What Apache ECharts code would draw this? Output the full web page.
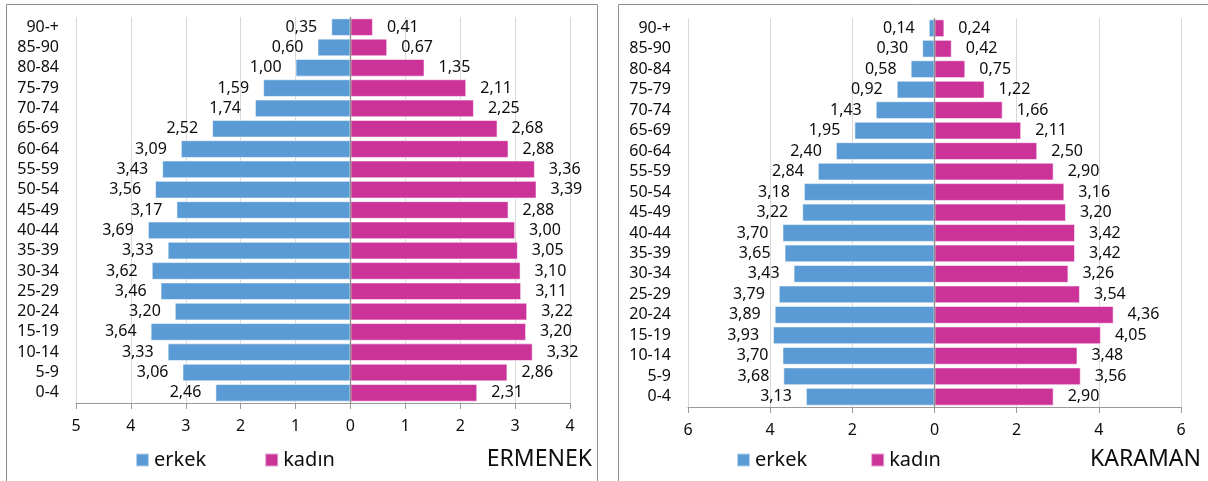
<!DOCTYPE html>
<html>
<head>
<meta charset="utf-8">
<script src="https://cdn.jsdelivr.net/npm/echarts@6/dist/echarts.min.js"></script>
<style>
html,body{margin:0;padding:0;background:#fff;}
#c{width:1208px;height:481px;}
</style>
</head>
<body>
<div id="c"></div>
<script>
// Age groups, bottom to top
const categories = ['0-4','5-9','10-14','15-19','20-24','25-29','30-34','35-39','40-44','45-49','50-54','55-59','60-64','65-69','70-74','75-79','80-84','85-90','90-+'];

const ermenekErkek = [2.46,3.06,3.33,3.64,3.20,3.46,3.62,3.33,3.69,3.17,3.56,3.43,3.09,2.52,1.74,1.59,1.00,0.60,0.35];
const ermenekKadin = [2.31,2.86,3.32,3.20,3.22,3.11,3.10,3.05,3.00,2.88,3.39,3.36,2.88,2.68,2.25,2.11,1.35,0.67,0.41];

const karamanErkek = [3.13,3.68,3.70,3.93,3.89,3.79,3.43,3.65,3.70,3.22,3.18,2.84,2.40,1.95,1.43,0.92,0.58,0.30,0.14];
const karamanKadin = [2.90,3.56,3.48,4.05,4.36,3.54,3.26,3.42,3.42,3.20,3.16,2.90,2.50,2.11,1.66,1.22,0.75,0.42,0.24];

const seriesNames = ['erkek','kadın'];
const panelTitles = ['ERMENEK','KARAMAN'];

const FONT = '"Noto Sans", "Open Sans", sans-serif';
const TXT = '#0d0d0d';
const BLUE = '#5b9bd5';
const PINK = '#cc3399';
const fmt = v => Math.abs(v).toFixed(2).replace('.', ',');

function xAxisFor(gridIndex, min, max, interval) {
  return {
    type: 'value', gridIndex, min, max, interval,
    axisLine: {show: true, onZero: false, lineStyle: {color: '#9a9a9a', width: 1}},
    axisTick: {show: true, length: 6, lineStyle: {color: '#9a9a9a'}},
    axisLabel: {formatter: v => String(Math.abs(v)), color: TXT, fontFamily: FONT, fontSize: 16, margin: 15},
    splitLine: {show: true, lineStyle: {color: '#d9d9d9', width: 1}}
  };
}
function yAxisFor(gridIndex) {
  return {
    type: 'category', gridIndex, data: categories,
    axisLine: {show: false}, axisTick: {show: false},
    axisLabel: {interval: 0, color: TXT, fontFamily: FONT, fontSize: 16, margin: 17},
    splitLine: {show: false}
  };
}
function barSeries(name, values, axisIndex, color, negative) {
  const s = {
    name, type: 'bar', xAxisIndex: axisIndex, yAxisIndex: axisIndex,
    data: values.map(v => negative ? -v : v),
    barCategoryGap: '13%', barGap: '-100%',
    itemStyle: {color, borderColor: 'rgba(255,255,255,0.55)', borderWidth: 1},
    label: {show: true, position: negative ? 'left' : 'right', distance: 14,
      formatter: p => fmt(p.value), color: TXT, fontFamily: FONT, fontSize: 16},
    labelLayout: {hideOverlap: false},
    emphasis: {disabled: true},
    animation: false
  };
  if (!negative) {
    s.markLine = {silent: true, symbol: 'none', label: {show: false},
      lineStyle: {color: '#8c8c8c', type: 'solid', width: 1.3},
      data: [{xAxis: 0}], animation: false};
  }
  return s;
}

const chart = echarts.init(document.getElementById('c'));
chart.setOption({
  animation: false,
  backgroundColor: '#fff',
  graphic: [
    {type: 'rect', shape: {x: 6.5, y: 4.5, width: 591, height: 520}, style: {fill: 'none', stroke: '#8c8c8c', lineWidth: 1}, silent: true},
    {type: 'rect', shape: {x: 618.5, y: 4.5, width: 620, height: 520}, style: {fill: 'none', stroke: '#8c8c8c', lineWidth: 1}, silent: true}
  ],
  title: [
    {text: panelTitles[0], right: 616, top: 448, textStyle: {fontFamily: FONT, fontSize: 23, fontWeight: 'normal', color: TXT}, padding: 0},
    {text: panelTitles[1], left: 1090, top: 448, textStyle: {fontFamily: FONT, fontSize: 23, fontWeight: 'normal', color: TXT}, padding: 0}
  ],
  legend: [
    {data: seriesNames, left: 135, top: 450, itemWidth: 13, itemHeight: 13, itemGap: 58, icon: 'rect', padding: 0,
      textStyle: {fontFamily: FONT, fontSize: 20, color: TXT}, selectedMode: false},
    {data: seriesNames, left: 736, top: 450, itemWidth: 13, itemHeight: 13, itemGap: 63, icon: 'rect', padding: 0,
      textStyle: {fontFamily: FONT, fontSize: 20, color: TXT}, selectedMode: false}
  ],
  grid: [
    {left: 76, right: 638, top: 17, bottom: 78, containLabel: false},
    {left: 688, right: 27, top: 18, bottom: 74, containLabel: false}
  ],
  xAxis: [xAxisFor(0, -5, 4, 1), xAxisFor(1, -6, 6, 2)],
  yAxis: [yAxisFor(0), yAxisFor(1)],
  series: [
    barSeries(seriesNames[0], ermenekErkek, 0, BLUE, true),
    barSeries(seriesNames[1], ermenekKadin, 0, PINK, false),
    barSeries(seriesNames[0], karamanErkek, 1, BLUE, true),
    barSeries(seriesNames[1], karamanKadin, 1, PINK, false)
  ]
});
</script>
</body>
</html>
